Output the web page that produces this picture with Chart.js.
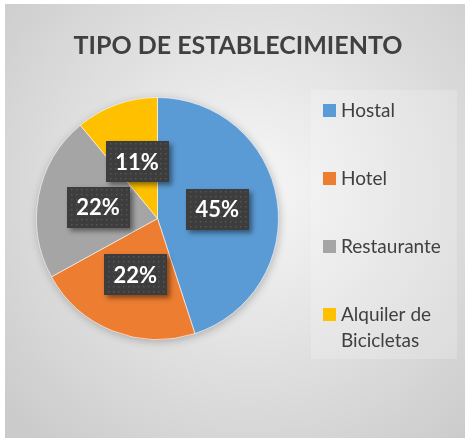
<!DOCTYPE html>
<html>
<head>
<meta charset="utf-8">
<script src="https://cdn.jsdelivr.net/npm/chart.js@4"></script>
<style>
  html, body { margin: 0; padding: 0; background: #ffffff; }
  #wrap { position: absolute; left: 0; top: 0; width: 465px; height: 438px; }
</style>
</head>
<body>
<div id="wrap"><canvas id="tipoChart" width="465" height="438"></canvas></div>
<script>
// Datos
const categorias = ['Hostal', 'Hotel', 'Restaurante', 'Alquiler de Bicicletas']
const porcentajes = [45, 22, 22, 11]
const etiquetas = ['45%', '22%', '22%', '11%']
const colores = ['#5b9bd5', '#ed7d31', '#a5a5a5', '#ffc000']

const titulo = 'TIPO DE ESTABLECIMIENTO'
const FONT = 'Lato, "Open Sans", sans-serif'

// fondo con degradado + caja de leyenda
const fondo = {
    id: 'fondo',
    beforeDraw(chart) {
        const ctx = chart.ctx
        ctx.save()
        ctx.fillStyle = '#ffffff'
        ctx.fillRect(0, 0, chart.width, chart.height)
        const g = ctx.createRadialGradient(250, 190, 10, 250, 190, 330)
        g.addColorStop(0, '#f6f6f6')
        g.addColorStop(1, '#cbcbcb')
        ctx.fillStyle = g
        ctx.fillRect(5, 4, chart.width - 5, chart.height - 4)
        ctx.fillStyle = 'rgba(255,255,255,0.2)'
        ctx.fillRect(311, 90, 146, 269)
        ctx.restore()
    },
    beforeDatasetsDraw(chart) {
        const ctx = chart.ctx
        ctx.save()
        ctx.shadowColor = 'rgba(0,0,0,0.25)'
        ctx.shadowBlur = 8
        ctx.shadowOffsetX = 1
        ctx.shadowOffsetY = 2
        const arc = chart.getDatasetMeta(0).data[0]
        ctx.fillStyle = '#c8c8c8'
        ctx.beginPath()
        ctx.arc(arc.x, arc.y, arc.outerRadius, 0, Math.PI * 2)
        ctx.fill()
        ctx.restore()
    }
}

// etiquetas de datos, titulo y leyenda
function wrapText(ctx, text, maxW) {
    const words = text.split(' ')
    const lines = []
    let line = ''
    words.forEach(w => {
        const t = line ? line + ' ' + w : w
        if (ctx.measureText(t).width > maxW && line) {
            lines.push(line)
            line = w
        } else {
            line = t
        }
    })
    lines.push(line)
    return lines
}

const extras = {
    id: 'extras',
    afterDraw(chart) {
        const ctx = chart.ctx
        const meta = chart.getDatasetMeta(0)
        ctx.save()

        // etiquetas
        ctx.font = 'bold 22px ' + FONT
        ctx.textAlign = 'center'
        ctx.textBaseline = 'middle'
        meta.data.forEach((arc, i) => {
            const p = arc.tooltipPosition()
            const w = 63, h = 41
            const x = Math.round(p.x - w / 2), y = Math.round(p.y - h / 2)
            ctx.save()
            ctx.shadowColor = 'rgba(0,0,0,0.45)'
            ctx.shadowBlur = 5
            ctx.shadowOffsetX = 3
            ctx.shadowOffsetY = 3
            ctx.fillStyle = '#3d3d3d'
            ctx.fillRect(x, y, w, h)
            ctx.restore()
            ctx.fillStyle = '#555555'
            for (let yy = y + 2; yy < y + h - 1; yy += 5) {
                for (let xx = x + 2 + ((yy - y) % 10 ? 2 : 0); xx < x + w - 1; xx += 5) {
                    ctx.fillRect(xx, yy, 1.5, 1.5)
                }
            }
            ctx.fillStyle = '#ffffff'
            ctx.fillText(etiquetas[i], p.x, p.y + 1)
        })

        // titulo
        ctx.font = 'bold 25px ' + FONT
        ctx.fillStyle = '#404040'
        ctx.fillText(titulo, 238, 46)

        // leyenda
        ctx.font = '19px ' + FONT
        ctx.textAlign = 'left'
        categorias.forEach((c, i) => {
            const cy = 110 + i * 68
            ctx.fillStyle = colores[i]
            ctx.fillRect(323, cy - 6, 13, 13)
            ctx.fillStyle = '#404040'
            wrapText(ctx, c, 112).forEach((l, j) => {
                ctx.fillText(l, 341, cy + j * 26 + 1)
            })
        })
        ctx.restore()
    }
}

new Chart(document.getElementById('tipoChart'), {
    type: 'pie',
    data: {
        labels: categorias,
        datasets: [{
            data: porcentajes,
            backgroundColor: colores,
            borderColor: 'rgba(255,255,255,0.6)',
            borderWidth: 1
        }]
    },
    options: {
        responsive: false,
        animation: false,
        layout: { padding: { top: 97, left: 36, right: 186, bottom: 98 } },
        plugins: {
            legend: { display: false },
            title: { display: false },
            tooltip: { enabled: false }
        }
    },
    plugins: [fondo, extras]
})
</script>
</body>
</html>
